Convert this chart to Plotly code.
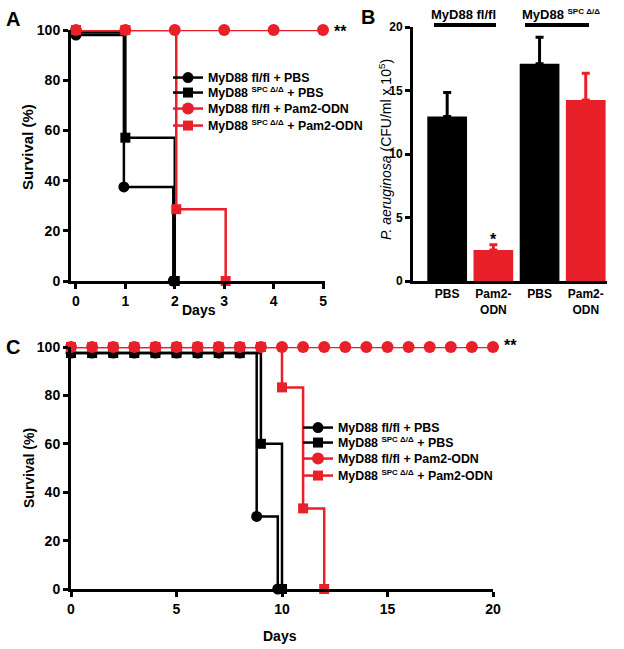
import plotly.graph_objects as go

# ---------------- data ----------------
# Panel A (survival, days 0-5)
A_days_fl_pbs = [0, 0.97, 1.97]
A_surv_fl_pbs = [98, 37.5, 0]
A_days_spc_pbs = [0, 1, 2]
A_surv_spc_pbs = [99, 57.1, 0]
A_days_fl_pam = [0, 1, 2, 3, 4, 5]
A_surv_fl_pam = [100, 100, 100, 100, 100, 100]
A_days_spc_pam = [0, 1, 2.03, 3.03]
A_surv_spc_pam = [100, 100, 28.6, 0]

# Panel B (bacterial burden)
B_pos = [0, 1, 2, 3]
B_labels = ["PBS", "Pam2-<br>ODN", "PBS", "Pam2-<br>ODN"]
B_values = [12.95, 2.45, 17.1, 14.25]
B_errors = [1.9, 0.4, 2.1, 2.1]

# Panel C (survival, days 0-20)
C_days_fl_pbs = [0, 1, 2, 3, 4, 5, 6, 7, 8, 8.8, 9.8]
C_surv_fl_pbs = [97.5] * 9 + [30, 0]
C_days_spc_pbs = [0, 1, 2, 3, 4, 5, 6, 7, 8, 9, 10]
C_surv_spc_pbs = [97.5] * 9 + [60, 0]
C_days_fl_pam = list(range(0, 21))
C_surv_fl_pam = [100] * 21
C_days_spc_pam = [0, 1, 2, 3, 4, 5, 6, 7, 8, 9, 10, 11, 12]
C_surv_spc_pam = [100] * 10 + [83.3, 33.3, 0]

SUP = "<sup><span style='font-size:8px'>SPC Δ/Δ</span></sup>"
names = ["MyD88 fl/fl + PBS", f"MyD88 {SUP} + PBS",
         "MyD88 fl/fl + Pam2-ODN", f"MyD88 {SUP} + Pam2-ODN"]
B_groups = ["MyD88 fl/fl", f"MyD88 {SUP}"]

# ---------------- style ----------------
W, H = 624, 649
RED = "#E8202A"
BLK = "#000000"
FONT = "Liberation Sans, Arial, sans-serif"
NARROW = "Liberation Sans Narrow, Arial Narrow, Liberation Sans, sans-serif"


def fx(p):
    return p / W


def fy(p):
    return 1 - p / H


fig = go.Figure()

series_A = [
    (A_days_fl_pbs, A_surv_fl_pbs, BLK, "circle", 11),
    (A_days_spc_pbs, A_surv_spc_pbs, BLK, "square", 10),
    (A_days_fl_pam, A_surv_fl_pam, RED, "circle", 12),
    (A_days_spc_pam, A_surv_spc_pam, RED, "square", 10),
]
for i, (xs, ys, col, sym, sz) in enumerate(series_A):
    fig.add_trace(go.Scatter(
        x=xs, y=ys, mode="lines+markers", name=names[i],
        line=dict(color=col, width=2.5, shape="hv"),
        marker=dict(symbol=sym, size=sz, color=col),
        xaxis="x", yaxis="y", cliponaxis=False,
        legend="legend" if i == 0 else f"legend{i + 1}",
    ))

series_C = [
    (C_days_fl_pbs, C_surv_fl_pbs, BLK, "circle", 11),
    (C_days_spc_pbs, C_surv_spc_pbs, BLK, "square", 10),
    (C_days_fl_pam, C_surv_fl_pam, RED, "circle", 12),
    (C_days_spc_pam, C_surv_spc_pam, RED, "square", 10),
]
for i, (xs, ys, col, sym, sz) in enumerate(series_C):
    fig.add_trace(go.Scatter(
        x=xs, y=ys, mode="lines+markers", name=names[i],
        line=dict(color=col, width=2.5, shape="hv"),
        marker=dict(symbol=sym, size=sz, color=col),
        xaxis="x3", yaxis="y3", cliponaxis=False,
        legend=f"legend{i + 5}",
    ))

# Panel B bars (black PBS, red Pam2-ODN)
for idxs, col in (([0, 2], BLK), ([1, 3], RED)):
    fig.add_trace(go.Bar(
        x=[B_pos[i] for i in idxs], y=[B_values[i] for i in idxs],
        width=0.86, marker=dict(color=col, line=dict(width=0)),
        error_y=dict(type="data", array=[B_errors[i] for i in idxs],
                     arrayminus=[0, 0], symmetric=False,
                     thickness=3, width=4, color=col),
        xaxis="x2", yaxis="y2", showlegend=False,
    ))

axis_common = dict(showline=True, linecolor="black", linewidth=3,
                   showgrid=False, zeroline=False, ticks="outside",
                   ticklen=5, tickwidth=3, tickcolor="black",
                   automargin=False)

layout = dict(
    width=W, height=H,
    margin=dict(l=0, r=0, t=0, b=0, autoexpand=False),
    paper_bgcolor="white", plot_bgcolor="white", barmode="overlay",
    font=dict(family=FONT, color="black"),
    xaxis=dict(axis_common, domain=[fx(71), fx(325)], range=[-0.1, 5.04],
               tickvals=[0, 1, 2, 3, 4, 5], anchor="y",
               tickfont=dict(size=14, weight="bold")),
    yaxis=dict(axis_common, domain=[fy(281), fy(30)], range=[0, 100],
               tickvals=[0, 20, 40, 60, 80, 100], anchor="x",
               tickfont=dict(size=14, weight="bold")),
    xaxis2=dict(axis_common, domain=[fx(413), fx(607)], range=[-0.74, 3.46],
                tickvals=B_pos, ticktext=B_labels, ticks="", anchor="y2",
                tickfont=dict(size=12, weight="bold")),
    yaxis2=dict(axis_common, domain=[fy(281), fy(27)], range=[0, 20],
                tickvals=[0, 5, 10, 15, 20], anchor="x2",
                tickfont=dict(size=12, weight="bold")),
    xaxis3=dict(axis_common, domain=[fx(71), fx(493)], range=[0, 20],
                tickvals=[0, 5, 10, 15, 20], anchor="y3",
                tickfont=dict(size=14, weight="bold", family=NARROW)),
    yaxis3=dict(axis_common, domain=[fy(589), fy(347)], range=[0, 100],
                tickvals=[0, 20, 40, 60, 80, 100], anchor="x3",
                tickfont=dict(size=14, weight="bold", family=NARROW)),
)

# legends: one per row, positioned like the reference
rowsA = [78, 93, 109, 126]
rowsC = [428, 443, 459, 476]
for i in range(8):
    key = "legend" if i == 0 else f"legend{i + 1}"
    if i < 4:
        lx, ly = 168, rowsA[i]
    else:
        lx, ly = 298, rowsC[i - 4]
    layout[key] = dict(x=fx(lx), y=fy(ly), xanchor="left", yanchor="middle",
                       bgcolor="rgba(0,0,0,0)", borderwidth=0,
                       font=dict(size=12.4, weight="bold", family=FONT),
                       itemwidth=30, tracegroupgap=0)

ann = []


def text(x, y, s, size, weight="bold", angle=0, family=FONT, xanchor="center",
         xref="paper", yref="paper"):
    ann.append(dict(x=x, y=y, xref=xref, yref=yref, text=s, showarrow=False,
                    textangle=angle, xanchor=xanchor, yanchor="middle",
                    font=dict(size=size, weight=weight, family=family)))


text(fx(13), fy(19), "A", 20)
text(fx(368), fy(17), "B", 20)
text(fx(13), fy(347), "C", 20)
text(fx(27), fy(147), "Survival (%)", 15, angle=-90)
text(fx(199), fy(310), "Days", 14)
text(fx(385), fy(150),
     "<i>P. aeruginosa</i> (CFU/ml x 10<sup>5</sup>)", 14, weight="normal",
     angle=-90)
text(fx(29), fy(468), "Survival (%)", 14, angle=-90)
text(fx(280), fy(636), "Days", 14, family=NARROW)
text(fx(332), fy(31), "**", 16, xanchor="left")
text(fx(502), fy(345), "**", 16, xanchor="left")
text(1, 3.3, "*", 16, xref="x2", yref="y2")
text(fx(463), fy(15), B_groups[0], 13)
text(fx(561), fy(15), B_groups[1], 13)
layout["annotations"] = ann

layout["shapes"] = [
    dict(type="line", xref="paper", yref="paper", x0=fx(434), x1=fx(496),
         y0=fy(25), y1=fy(25), line=dict(color="black", width=4)),
    dict(type="line", xref="paper", yref="paper", x0=fx(525), x1=fx(589),
         y0=fy(25), y1=fy(25), line=dict(color="black", width=4)),
]

fig.update_layout(**layout)
fig.write_html("out.html",
               config={"displayModeBar": False},
               post_script="document.body.style.margin='0px';")
